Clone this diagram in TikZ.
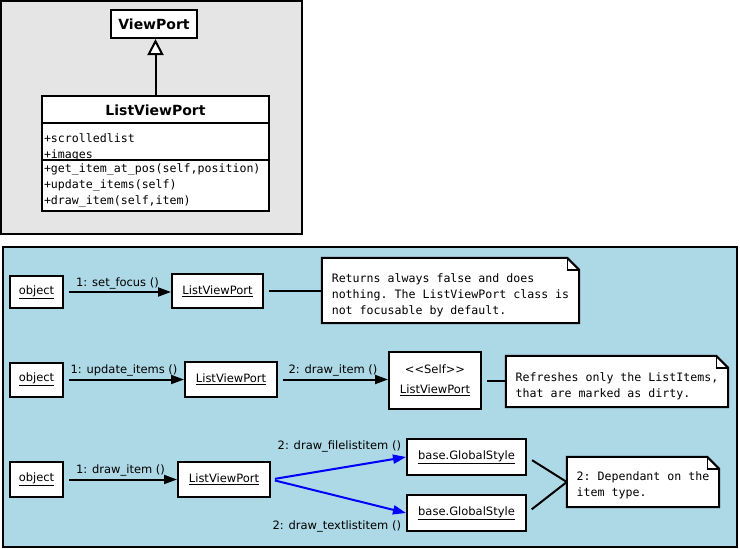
\documentclass[tikz,border=0pt]{standalone}
\usepackage{fontspec}
\setmainfont{DejaVu Sans}
\setmonofont{DejaVu Sans Mono}
\usetikzlibrary{
  arrows.meta,
  calc
}
\definecolor{umlgray}{HTML}{E5E5E5}
\definecolor{umlblue}{HTML}{ADD8E6}
\definecolor{msgblue}{HTML}{0000FF}

% dog-ear outline for a note node
\newcommand{\notefold}[1]{%
  \fill[umlblue] ($(#1.north east)+(-12,0)$) -- (#1.north east) -- ($(#1.north east)+(0,12)$) -- cycle;
  \draw[line width=2pt, line join=miter]
    (#1.south west) -- (#1.north west) -- ($(#1.north east)+(-12,0)$)
    -- ($(#1.north east)+(0,12)$) -- (#1.south east) -- cycle;
  \draw[line width=1.4pt] ($(#1.north east)+(-12,0)$) |- ($(#1.north east)+(0,12)$);
}

\begin{document}
\begin{tikzpicture}[
  x=1pt, y=-1pt,
  box/.style={draw, line width=2pt, fill=white, inner sep=0pt,
    font=\fontsize{11.5}{14}\selectfont},
  title/.style={box, font=\fontsize{14}{16}\selectfont\bfseries},
  members/.style={draw, line width=2pt, fill=white, inner xsep=2pt, inner ysep=0pt,
    align=left, text width=223pt, font=\ttfamily\fontsize{11.6}{16}\selectfont},
  note/.style={fill=white, inner sep=0pt, align=left,
    font=\ttfamily\fontsize{11.6}{16}\selectfont},
  lbl/.style={font=\fontsize{11.5}{14}\selectfont, inner sep=2pt, text=black},
  msg/.style={-{Triangle[length=13pt, width=9pt]}, line width=2pt, shorten <=5pt},
  call/.style={msg, msgblue, shorten <=4pt},
  link/.style={line width=2pt, shorten <=5pt},
  inherit/.style={-{Triangle[open, fill=white, length=16pt, width=16pt]}, line width=2pt}
]

  \useasboundingbox (0,0) rectangle (740,549);

  % panels
  \draw[line width=2pt, fill=umlgray] (1,1) rectangle (302,234);
  \draw[line width=2pt, fill=umlblue] (3,247) rectangle (737,547);

  % class diagram
  \node[title, minimum width=86pt, minimum height=28pt] (vp) at (154,24) {ViewPort};
  \node[title, minimum width=227pt, minimum height=28pt] (lvp) at (155.5,110) {ListViewPort};
  \node[members, minimum height=36pt] (lvpattr) at (155.5,142)
    {\rule{0pt}{19pt}+scrolledlist\\+images};
  \node[members, minimum height=51pt] (lvpops) at (155.5,185.5)
    {+get\_item\_at\_pos(self,position)\\+update\_items(self)\\+draw\_item(self,item)};

  \draw[inherit] (lvp.north) -- (lvp.north |- vp.south);

  % set_focus
  \node[box, minimum width=53pt, minimum height=32pt] (obj1) at (36.5,292) {\underline{object}};
  \node[box, minimum width=91pt, minimum height=34pt] (lvp1) at (217.5,291) {\underline{ListViewPort}};
  \node[note, minimum width=257pt, minimum height=65pt] (note1) at (450.5,290.5)
    {\rule{0pt}{18pt}Returns always false and does\\nothing. The ListViewPort class is\\not focusable by default.};
  \notefold{note1}

  \draw[msg] (obj1.east) -- node[lbl, above] {1: set\_focus ()} (lvp1.west |- obj1.east);
  \draw[link] (lvp1.east) -- (lvp1.east -| note1.west);

  % update_items
  \node[box, minimum width=53pt, minimum height=34pt] (obj2) at (36.5,379.5) {\underline{object}};
  \node[box, minimum width=92pt, minimum height=35pt] (lvp2) at (231,379.5) {\underline{ListViewPort}};
  \node[box, minimum width=92pt, minimum height=57pt, align=center] (self2) at (435,380.5)
    {{<}{<}Self{>}{>}\\[6pt]\underline{ListViewPort}};
  \node[note, minimum width=222pt, minimum height=51pt] (note2) at (617,381.5)
    {\rule{0pt}{19pt}Refreshes only the ListItems,\\that are marked as dirty.};
  \notefold{note2}

  \draw[msg] (obj2.east) -- node[lbl, above] {1: update\_items ()} (lvp2.west);
  \draw[msg] (lvp2.east) -- node[lbl, above] {2: draw\_item ()} (lvp2.east -| self2.west);
  \draw[link] (self2.east) -- (self2.east -| note2.west);

  % draw_item
  \node[box, minimum width=53pt, minimum height=35pt] (obj3) at (36.5,479.5) {\underline{object}};
  \node[box, minimum width=92pt, minimum height=35pt] (lvp3) at (224,479.5) {\underline{ListViewPort}};
  \node[box, minimum width=119pt, minimum height=36pt] (gs1) at (466.5,457) {\underline{base.GlobalStyle}};
  \node[box, minimum width=119pt, minimum height=36pt] (gs2) at (466.5,513) {\underline{base.GlobalStyle}};
  \node[note, minimum width=152pt, minimum height=50pt] (note3) at (643,482)
    {\rule{0pt}{16pt}2: Dependant on the\\item type.};
  \notefold{note3}

  \draw[msg] (obj3.east) -- node[lbl, above] {1: draw\_item ()} (lvp3.west);
  \draw[call] (lvp3.east) -- node[lbl, pos=1, above left, inner sep=4pt] {2: draw\_filelistitem ()} (gs1.west);
  \draw[call] (lvp3.east) -- node[lbl, pos=1, below left, inner sep=4pt, yshift=-3pt] {2: draw\_textlistitem ()} (gs2.west);
  \draw[link, shorten <=6pt] (gs1.east) -- (note3.west);
  \draw[link, shorten <=6pt] (gs2.east) -- (note3.west);

\end{tikzpicture}
\end{document}
